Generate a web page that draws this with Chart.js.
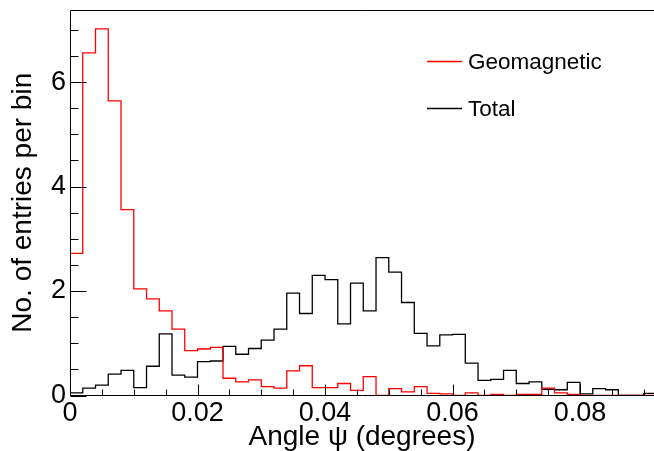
<!DOCTYPE html>
<html>
<head>
<meta charset="utf-8">
<title>Angle psi</title>
<script src="https://cdn.jsdelivr.net/npm/chart.js@4.4.1/dist/chart.umd.min.js"></script>
<style>
  html, body { margin: 0; padding: 0; background: #fff; overflow: hidden; }
  canvas { display: block; }
</style>
</head>
<body>
<canvas id="histo" width="654" height="451"></canvas>
<script>
// bin width in degrees, bins start at 0
const binWidth = 0.002;

// entries per bin (bins 0..45)
const geomagnetic = [
    2.72, 6.56, 7.02, 5.64, 3.56, 2.04, 1.85, 1.62, 1.27, 0.86,
    0.89, 0.92, 0.33, 0.26, 0.30, 0.17, 0.14, 0.47, 0.57, 0.15,
    0.15, 0.23, 0.10, 0.36, 0.00, 0.13, 0.07, 0.17, 0.04, 0.03,
    0.00, 0.05, 0.00, 0.02, 0.00, 0.02, 0.02, 0.14, 0.05, 0.02,
    0.00, 0.00, 0.00, 0.00, 0.00, 0.00
];
const total = [
    0.05, 0.14, 0.20, 0.41, 0.48, 0.15, 0.56, 1.18, 0.39, 0.35,
    0.65, 0.66, 0.94, 0.79, 0.90, 1.06, 1.27, 1.96, 1.57, 2.30,
    2.22, 1.37, 2.15, 1.62, 2.64, 2.36, 1.78, 1.19, 0.95, 1.16,
    1.17, 0.62, 0.29, 0.31, 0.48, 0.23, 0.26, 0.12, 0.11, 0.25,
    0.03, 0.13, 0.11, 0.00, 0.00, 0.04
];

const xTicks = [0, 0.02, 0.04, 0.06, 0.08];
const yTicks = [0, 2, 4, 6];
const seriesNames = ['Geomagnetic', 'Total'];

const FONT = "'Liberation Sans', Arial, Helvetica, sans-serif";
const X_MAX = 0.0916;
const Y_MAX = 7.38;

// histogram outline: start on the axis, one point per bin low edge, close at last bin high edge
function histoPoints(values) {
    const pts = [{ x: 0, y: 0 }];
    values.forEach((v, i) => pts.push({ x: i * binWidth, y: v }));
    pts.push({ x: values.length * binWidth, y: values[values.length - 1] });
    return pts;
}

// frame, inside ticks and legend, drawn the ROOT way
const rootFrame = {
    id: 'rootFrame',
    afterDatasetsDraw(chart) {
        const ctx = chart.ctx;
        const area = chart.chartArea;
        const xs = chart.scales.x;
        const ys = chart.scales.y;
        const left = Math.round(area.left) + 0.5;
        const bottom = Math.round(area.bottom) - 0.5;
        const top = Math.round(area.top) + 0.5;

        ctx.save();
        ctx.strokeStyle = '#000';
        ctx.lineWidth = 1;
        ctx.beginPath();
        ctx.moveTo(left, top);
        ctx.lineTo(left, bottom);
        ctx.lineTo(chart.width, bottom);
        ctx.moveTo(left, top);
        ctx.lineTo(chart.width, top);

        // x ticks: major every 0.02, minor every 0.005
        for (let k = 0; k * 0.005 <= X_MAX + 1e-9; k++) {
            const px = Math.round(xs.getPixelForValue(k * 0.005)) + 0.5;
            const len = (k % 4 === 0) ? 11 : 6;
            ctx.moveTo(px, bottom);
            ctx.lineTo(px, bottom - len);
        }
        // y ticks: major every 2, minor every 0.5
        for (let k = 0; k * 0.5 <= Y_MAX + 1e-9; k++) {
            const py = Math.round(ys.getPixelForValue(k * 0.5)) + 0.5;
            const len = (k % 4 === 0) ? 16 : 8;
            ctx.moveTo(left, py);
            ctx.lineTo(left + len, py);
        }
        ctx.stroke();

        // legend
        const legendColors = ['#ff0000', '#000000'];
        const rows = [61.5, 108.5];
        ctx.font = '22.5px ' + FONT;
        ctx.textBaseline = 'middle';
        ctx.textAlign = 'left';
        for (let i = 0; i < seriesNames.length; i++) {
            ctx.beginPath();
            ctx.strokeStyle = legendColors[i];
            ctx.lineWidth = 1.4;
            ctx.moveTo(427, rows[i]);
            ctx.lineTo(462, rows[i]);
            ctx.stroke();
            ctx.fillStyle = '#000';
            ctx.fillText(seriesNames[i], 468, rows[i] + 1);
        }
        ctx.restore();
    }
};

document.addEventListener('DOMContentLoaded', function () {
    const ctx = document.getElementById('histo').getContext('2d');

    new Chart(ctx, {
        type: 'line',
        data: {
            datasets: [
                {
                    label: seriesNames[0],
                    data: histoPoints(geomagnetic),
                    borderColor: '#ff0000',
                    borderWidth: 1.3,
                    stepped: 'before',
                    pointRadius: 0,
                    fill: false
                },
                {
                    label: seriesNames[1],
                    data: histoPoints(total),
                    borderColor: '#000000',
                    borderWidth: 1.3,
                    stepped: 'before',
                    pointRadius: 0,
                    fill: false
                }
            ]
        },
        options: {
            responsive: false,
            animation: false,
            events: [],
            layout: { padding: { top: 10, right: 0, left: 0, bottom: 0 } },
            plugins: {
                legend: { display: false },
                tooltip: { enabled: false }
            },
            scales: {
                x: {
                    type: 'linear',
                    min: 0,
                    max: X_MAX,
                    afterFit: s => { s.height = 55.5; s.paddingLeft = 0; s.paddingRight = 0; },
                    afterBuildTicks: s => { s.ticks = xTicks.map(v => ({ value: v })); },
                    grid: { display: false, drawTicks: false },
                    border: { display: false },
                    ticks: {
                        color: '#000',
                        padding: 2,
                        maxRotation: 0,
                        font: { family: FONT, size: 27 }
                    },
                    title: {
                        display: true,
                        text: 'Angle ψ (degrees)',
                        color: '#000',
                        padding: 0,
                        font: { family: FONT, size: 28, lineHeight: 1 }
                    }
                },
                y: {
                    type: 'linear',
                    min: 0,
                    max: Y_MAX,
                    afterFit: s => { s.width = 70; s.paddingTop = 0; s.paddingBottom = 0; },
                    afterBuildTicks: s => { s.ticks = yTicks.map(v => ({ value: v })); },
                    grid: { display: false, drawTicks: false },
                    border: { display: false },
                    ticks: {
                        color: '#000',
                        padding: 4,
                        font: { family: FONT, size: 27 }
                    },
                    title: {
                        display: true,
                        text: 'No. of entries per bin',
                        color: '#000',
                        padding: { top: 9, bottom: 0 },
                        font: { family: FONT, size: 28, lineHeight: 1 }
                    }
                }
            }
        },
        plugins: [rootFrame]
    });
});
</script>
</body>
</html>
